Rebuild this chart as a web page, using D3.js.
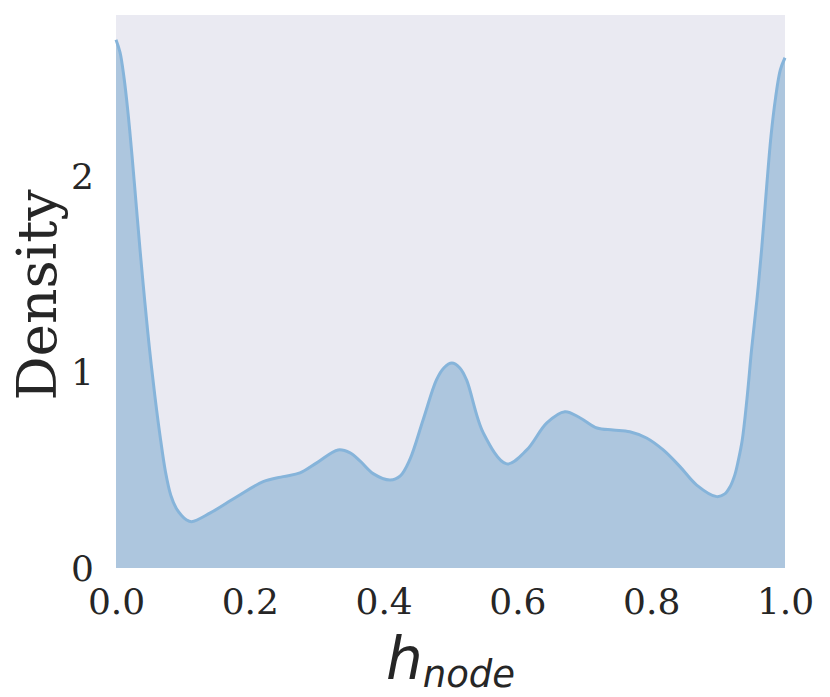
<!DOCTYPE html>
<html>
<head>
<meta charset="utf-8">
<script src="https://cdn.jsdelivr.net/npm/d3@7"></script>
<style>
  body { margin: 0; background: #fff; }
  svg { display: block; }
</style>
</head>
<body>
<svg width="830" height="697"></svg>
<script>
// KDE curve: h_node values and their density
const hValues = [0, 0.006, 0.012, 0.018, 0.024, 0.030, 0.036, 0.043, 0.050, 0.058,
    0.066, 0.074, 0.082, 0.090, 0.098, 0.105, 0.113, 0.141, 0.180, 0.220,
    0.250, 0.275, 0.300, 0.332, 0.350, 0.365, 0.385, 0.410, 0.425, 0.439,
    0.459, 0.479, 0.490, 0.502, 0.514, 0.524, 0.549, 0.584, 0.614, 0.644,
    0.671, 0.694, 0.719, 0.743, 0.768, 0.793, 0.818, 0.843, 0.868, 0.898,
    0.910, 0.918, 0.925, 0.930, 0.936, 0.943, 0.950, 0.958, 0.965, 0.972,
    0.979, 0.986, 0.993, 1.0];
const densityValues = [2.694, 2.63, 2.50, 2.32, 2.10, 1.86, 1.62, 1.36, 1.12, 0.88,
    0.67, 0.49, 0.37, 0.305, 0.268, 0.246, 0.236, 0.281, 0.362, 0.440,
    0.466, 0.485, 0.536, 0.602, 0.587, 0.545, 0.480, 0.449, 0.470, 0.551,
    0.755, 0.959, 1.020, 1.045, 1.020, 0.959, 0.689, 0.531, 0.602, 0.740,
    0.797, 0.765, 0.714, 0.704, 0.695, 0.663, 0.602, 0.517, 0.423, 0.364,
    0.378, 0.415, 0.475, 0.545, 0.650, 0.857, 1.112, 1.367, 1.622, 1.92,
    2.20, 2.40, 2.54, 2.602];
const xTicks = [0, 0.2, 0.4, 0.6, 0.8, 1.0];
const yTicks = [0, 1, 2];

const data = hValues.map((h, i) => ({ h: h, d: densityValues[i] }));

const svg = d3.select('svg'),
      margin = { top: 15, right: 45, bottom: 129, left: 116 },
      width = +svg.attr('width') - margin.left - margin.right,
      height = +svg.attr('height') - margin.top - margin.bottom,
      g = svg.append('g').attr('transform', `translate(${margin.left},${margin.top})`);

const x = d3.scaleLinear().domain([0, 1]).range([0, width]);
const y = d3.scaleLinear().domain([0, 2.82]).range([height, 0]);

// seaborn-ish background, no grid
g.append('rect')
    .attr('width', width)
    .attr('height', height)
    .attr('fill', '#eaeaf2');

const area = d3.area()
    .x(d => x(d.h))
    .y0(y(0))
    .y1(d => y(d.d))
    .curve(d3.curveCatmullRom.alpha(0.5));

const line = d3.line()
    .x(d => x(d.h))
    .y(d => y(d.d))
    .curve(d3.curveCatmullRom.alpha(0.5));

g.append('path')
    .datum(data)
    .attr('fill', '#adc6de')
    .attr('d', area);

g.append('path')
    .datum(data)
    .attr('fill', 'none')
    .attr('stroke', '#86b4da')
    .attr('stroke-width', 3)
    .attr('d', line);

// axes without tick lines or domain
const xAxis = g.append('g')
    .attr('transform', `translate(0,${height})`)
    .call(d3.axisBottom(x).tickValues(xTicks).tickFormat(d3.format('.1f')).tickSize(0).tickPadding(20));

const yAxis = g.append('g')
    .call(d3.axisLeft(y).tickValues(yTicks).tickFormat(d3.format('d')).tickSize(0).tickPadding(22));

[xAxis, yAxis].forEach(a => {
    a.select('.domain').remove();
    a.selectAll('text')
        .attr('fill', '#262626')
        .style('font-family', '"DejaVu Serif"')
        .style('font-size', '36px');
});
xAxis.selectAll('text').attr('dy', '0.71em');
yAxis.selectAll('text').attr('dy', '0.36em');

// y label
svg.append('text')
    .attr('transform', 'translate(56,295) rotate(-90)')
    .attr('text-anchor', 'middle')
    .attr('fill', '#262626')
    .style('font-family', '"DejaVu Serif"')
    .style('font-size', '55px')
    .text('Density');

// x label: h_node
const xl = svg.append('text')
    .attr('x', margin.left + width / 2)
    .attr('y', 679)
    .attr('text-anchor', 'middle')
    .attr('fill', '#262626')
    .style('font-family', '"DejaVu Sans"')
    .style('font-style', 'italic');
xl.append('tspan').style('font-size', '58px').text('h');
xl.append('tspan').attr('dy', 8).style('font-size', '37px').text('node');
</script>
</body>
</html>
